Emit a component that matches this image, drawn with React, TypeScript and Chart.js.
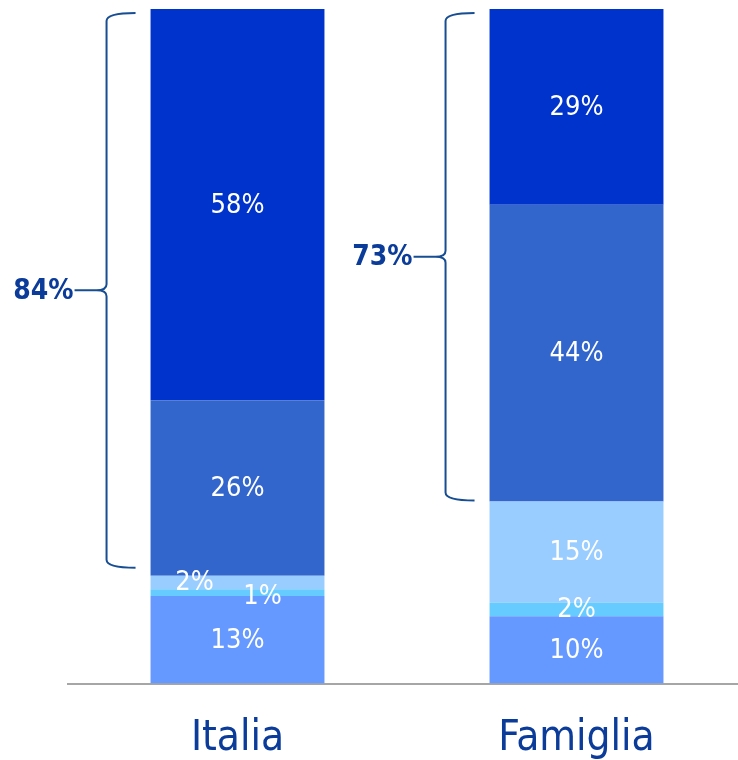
import React, { useEffect, useRef } from "react";
import { Chart, registerables } from "chart.js";

Chart.register(...registerables);

const categories = ["Italia", "Famiglia"];
const seg1 = [13, 10];
const seg2 = [1, 2];
const seg3 = [2, 15];
const seg4 = [26, 44];
const seg5 = [58, 29];
const braceTotals = [84, 73];

const FONT = '"DejaVu Sans Condensed", "DejaVu Sans", sans-serif';
const BLUE_TEXT = "#0b3c99";

const labelNudge: Record<string, [number, number]> = {
  "0-2": [-43, 0],
  "0-1": [25, 3],
};

const valueLabels = {
  id: "valueLabels",
  afterDatasetsDraw(chart: any) {
    const ctx = chart.ctx;
    ctx.save();
    ctx.fillStyle = "#ffffff";
    ctx.font = `27px ${FONT}`;
    ctx.textAlign = "center";
    ctx.textBaseline = "middle";
    chart.data.datasets.forEach((ds: any, di: number) => {
      const meta = chart.getDatasetMeta(di);
      meta.data.forEach((el: any, i: number) => {
        const v = ds.data[i];
        const nudge = labelNudge[`${i}-${di}`] || [0, 0];
        const cy = (el.y + el.base) / 2;
        ctx.fillText(`${v}%`, el.x + nudge[0], cy + 1 + nudge[1]);
      });
    });
    ctx.restore();
  },
};

const braces = {
  id: "braces",
  afterDatasetsDraw(chart: any) {
    const ctx = chart.ctx;
    const y = chart.scales.y;
    const meta = chart.getDatasetMeta(0);
    const insetBottom = [8, 1];
    ctx.save();
    braceTotals.forEach((tot, i) => {
      const el = meta.data[i];
      const left = el.x - el.width / 2;
      const xEnd = left - 15;
      const xV = left - 44;
      const xTip = left - 76;
      const top = y.getPixelForValue(100) + 4;
      const bottom = y.getPixelForValue(100 - tot) - insetBottom[i];
      const mid = (top + bottom) / 2;
      ctx.strokeStyle = "#174e93";
      ctx.lineWidth = 2;
      ctx.beginPath();
      ctx.moveTo(xEnd, top);
      ctx.quadraticCurveTo(xV, top, xV, top + 8);
      ctx.lineTo(xV, mid - 6);
      ctx.quadraticCurveTo(xV, mid, xV - 10, mid);
      ctx.lineTo(xTip, mid);
      ctx.moveTo(xV - 10, mid);
      ctx.quadraticCurveTo(xV, mid, xV, mid + 6);
      ctx.lineTo(xV, bottom - 8);
      ctx.quadraticCurveTo(xV, bottom, xEnd, bottom);
      ctx.stroke();
      ctx.fillStyle = BLUE_TEXT;
      ctx.font = `bold 28px ${FONT}`;
      ctx.textAlign = "right";
      ctx.textBaseline = "middle";
      ctx.fillText(`${tot}%`, xTip - 1, mid + 1);
    });
    ctx.restore();
  },
};

export default function App() {
  const ref = useRef<HTMLCanvasElement>(null);
  useEffect(() => {
    if (!ref.current) return;
    const mk = (label: string, data: number[], color: string) => ({
      label,
      data,
      backgroundColor: color,
      borderWidth: 0,
      barPercentage: 0.513,
      categoryPercentage: 1,
    });
    const chart = new Chart(ref.current, {
      type: "bar",
      data: {
        labels: categories,
        datasets: [
          mk("A", seg1, "#6699ff"),
          mk("B", seg2, "#66ccff"),
          mk("C", seg3, "#99ccff"),
          mk("D", seg4, "#3366cc"),
          mk("E", seg5, "#0033cc"),
        ],
      },
      options: {
        responsive: false,
        animation: false,
        devicePixelRatio: 1,
        layout: { padding: { left: 68, right: 0, top: 9, bottom: 0 } },
        plugins: { legend: { display: false }, tooltip: { enabled: false } },
        scales: {
          x: {
            stacked: true,
            grid: { display: false, drawTicks: false },
            border: { display: true, color: "#a6a6a6", width: 2 },
            ticks: {
              color: BLUE_TEXT,
              font: { family: FONT, size: 42, lineHeight: 1.2 },
              padding: 30,
            },
          },
          y: {
            stacked: true,
            display: false,
            min: 0,
            max: 100,
          },
        },
      },
      plugins: [valueLabels, braces],
    });
    return () => chart.destroy();
  }, []);
  return (
    <div
      style={{
        position: "absolute",
        left: 0,
        top: 0,
        width: 738,
        height: 760,
        overflow: "hidden",
        background: "#fff",
      }}
    >
      <canvas ref={ref} width={746} height={794} />
    </div>
  );
}
